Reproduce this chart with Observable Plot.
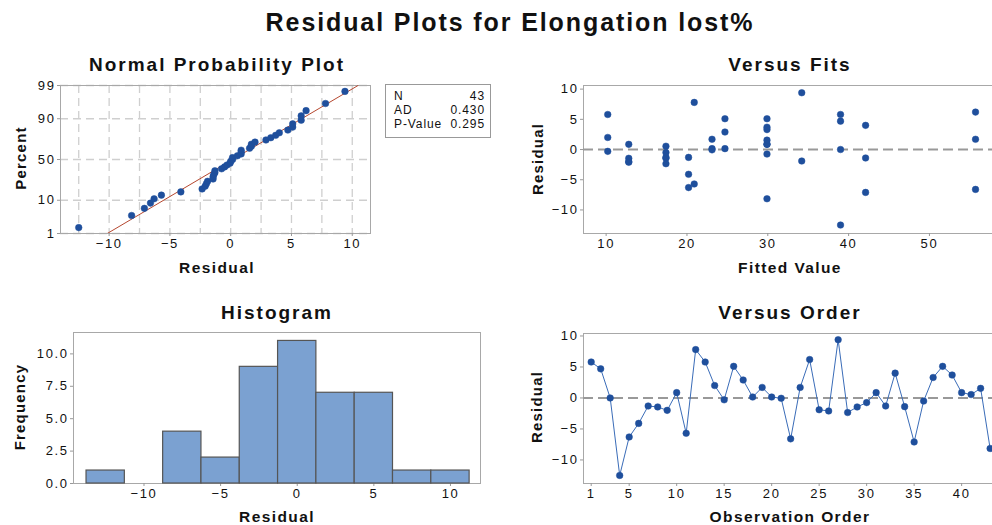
<!DOCTYPE html>
<html><head><meta charset="utf-8">
<script src="https://cdn.jsdelivr.net/npm/d3@7"></script>
<script src="https://cdn.jsdelivr.net/npm/@observablehq/plot@0.6"></script>
<style>
body{margin:0;background:#fff;font-family:"Liberation Sans",Arial,sans-serif;}
#wrap{position:relative;width:992px;height:525px;overflow:hidden;background:#fff}
.t{position:absolute;font-weight:bold;white-space:nowrap;color:#111;line-height:1;transform:translateX(-50%)}
.r{position:absolute;font-weight:bold;white-space:nowrap;color:#111;line-height:1;font-size:15px;letter-spacing:1.2px;transform:translate(-50%,-50%) rotate(-90deg)}
.main{font-size:25px;letter-spacing:1.9px}
.pt{font-size:19px;letter-spacing:2px}
.xl{font-size:15.5px;letter-spacing:1.4px}
#legend{position:absolute;left:385px;top:84px;width:106px;height:54px;border:1px solid #999;box-sizing:border-box;font-size:12px;letter-spacing:0.9px;color:#111}
#legend div{position:absolute;left:8px;right:5px;height:12px;line-height:12px}
#legend span.v{position:absolute;right:0}
svg text{letter-spacing:1.6px}
</style></head><body><div id="wrap"></div>
<script>
// ---------- data ----------
const residuals = [5.8, 4.7, 0, -12.5, -6.3, -4.1, -1.3, -1.45, -2.0, 0.86,
  -5.7, 7.8, 5.8, 2.0, -0.3, 5.1, 2.9, 0.15, 1.7, 0.15,
  -0.05, -6.6, 1.7, 6.2, -1.9, -2.1, 9.4, -2.35, -1.45, -0.75,
  0.86, -1.3, 4.0, -1.4, -7.1, -0.5, 3.3, 5.1, 3.7, 0.86,
  0.55, 1.55, -8.15];
const fitted = [10.2, 39.0, 39.0, 39.0, 20.2, 20.2, 20.2, 12.8, 12.8, 29.9,
  20.9, 20.9, 39.0, 10.2, 10.2, 24.7, 24.7, 24.7, 23.1, 23.1,
  23.1, 55.7, 55.7, 55.7, 34.2, 12.8, 34.2, 17.4, 17.4, 29.9,
  12.8, 17.4, 42.1, 42.1, 42.1, 17.4, 29.9, 29.9, 29.9, 29.9,
  17.4, 29.9, 29.9];
const histBinCenters = [-12.5, -10, -7.5, -5, -2.5, 0, 2.5, 5, 7.5, 10];
const histCounts = [1, 0, 4, 2, 9, 11, 7, 7, 1, 1];
const histBinWidth = 2.5;
const percentTicks = [1, 10, 50, 90, 99];
const residualGrid = [-12.5, -10, -7.5, -5, -2.5, 0, 2.5, 5, 7.5, 10];
const residualTicks = [-10, -5, 0, 5, 10];
const fitTicks = [10, 20, 30, 40, 50];
const orderTicks = [1, 5, 10, 15, 20, 25, 30, 35, 40];
const freqTicks = [0, 2.5, 5, 7.5, 10];
const statLabels = ["N", "AD", "P-Value"];
const statValues = ["43", "0.430", "0.295"];

// ---------- helpers ----------
function probit(p){
  const a=[-3.969683028665376e+01,2.209460984245205e+02,-2.759285104469687e+02,1.383577518672690e+02,-3.066479806614716e+01,2.506628277459239e+00];
  const b=[-5.447609879822406e+01,1.615858368580409e+02,-1.556989798598866e+02,6.680131188771972e+01,-1.328068155288572e+01];
  const c=[-7.784894002430293e-03,-3.223964580411365e-01,-2.400758277161838e+00,-2.549732539343734e+00,4.374664141464968e+00,2.938163982698783e+00];
  const d=[7.784695709041462e-03,3.224671290700398e-01,2.445134137142996e+00,3.754408661907416e+00];
  const pl=0.02425, ph=1-pl; let q,r;
  if(p<pl){q=Math.sqrt(-2*Math.log(p));return (((((c[0]*q+c[1])*q+c[2])*q+c[3])*q+c[4])*q+c[5])/((((d[0]*q+d[1])*q+d[2])*q+d[3])*q+1);}
  if(p<=ph){q=p-0.5;r=q*q;return (((((a[0]*r+a[1])*r+a[2])*r+a[3])*r+a[4])*r+a[5])*q/(((((b[0]*r+b[1])*r+b[2])*r+b[3])*r+b[4])*r+1);}
  q=Math.sqrt(-2*Math.log(1-p));return -(((((c[0]*q+c[1])*q+c[2])*q+c[3])*q+c[4])*q+c[5])/((((d[0]*q+d[1])*q+d[2])*q+d[3])*q+1);
}
const wrap = document.getElementById("wrap");
function mount(el, left, top){ el.style.position="absolute"; el.style.left=left+"px"; el.style.top=top+"px"; wrap.appendChild(el); }
function text(cls, str, cx, baseline, fs){
  const d=document.createElement("div"); d.className="t "+cls; d.textContent=str;
  d.style.left=cx+"px"; d.style.top=(baseline-0.8465*fs)+"px"; wrap.appendChild(d);
}
function rtext(str, baselineX, cy){
  const d=document.createElement("div"); d.className="r"; d.textContent=str;
  d.style.left=(baselineX-0.3465*15)+"px"; d.style.top=cy+"px"; wrap.appendChild(d);
}
const BLUE="#1f4f9c", FRAME="#a8a8a8", GRID="#cfcfcf";
const style={fontSize:"13px", fontFamily:"Liberation Sans, Arial, sans-serif", color:"#111", background:"transparent", overflow:"visible"};
const axisOpts={tickSize:3, tickPadding:2, stroke:"#999", label:null};

// ---------- 1. Normal probability plot ----------
const n = residuals.length;
const sorted = residuals.slice().sort(d3.ascending);
const probData = sorted.map((r,i)=>({r, z: probit((i+1-0.3)/(n+0.4))}));
const zTicks = percentTicks.map(p=>probit(p/100));
const zLo = zTicks[0], zHi = zTicks[zTicks.length-1];
const mean = d3.mean(residuals), sd = d3.deviation(residuals);
const lineData = [zLo, zHi].map(z=>({r: mean+sd*z, z}));
const p1 = Plot.plot({
  width:380, height:200, marginLeft:60, marginRight:10, marginTop:10, marginBottom:42,
  style,
  x:{domain:[-14,11.5], axis:null},
  y:{domain:[zLo,zHi], axis:null},
  marks:[
    Plot.gridX(residualGrid,{stroke:GRID, strokeOpacity:1, strokeDasharray:"8,5", strokeWidth:1.3}),
    Plot.gridY(zTicks,{stroke:GRID, strokeOpacity:1, strokeDasharray:"8,5", strokeWidth:1.3}),
    Plot.frame({stroke:FRAME}),
    Plot.axisX(residualTicks,{...axisOpts}),
    Plot.axisY(zTicks,{...axisOpts, tickFormat: z => percentTicks[zTicks.findIndex(t=>Math.abs(t-z)<1e-9)]}),
    Plot.line(lineData,{x:"r", y:"z", stroke:"#b5472f", strokeWidth:1, clip:true}),
    Plot.dot(probData,{x:"r", y:"z", r:3.3, fill:BLUE, stroke:BLUE, strokeWidth:0.5})
  ]
});
mount(p1, 0, 75);

// legend box
const lg=document.createElement("div"); lg.id="legend";
statLabels.forEach((lab,i)=>{
  const row=document.createElement("div"); row.style.top=(4.5+i*14)+"px";
  row.innerHTML=`<span>${lab}</span><span class="v">${statValues[i]}</span>`;
  lg.appendChild(row);
});
wrap.appendChild(lg);

// ---------- 2. Versus fits ----------
const obs = residuals.map((r,i)=>({order:i+1, fit:fitted[i], r}));
const fxDom=[7.2,57.8], fyDom=[-13.9,10.6];
const p2 = Plot.plot({
  width:472, height:200, marginLeft:63, marginRight:0, marginTop:10, marginBottom:42,
  style,
  x:{domain:fxDom, axis:null},
  y:{domain:fyDom, axis:null},
  marks:[
    Plot.ruleY(fyDom,{stroke:FRAME}),
    Plot.ruleX([fxDom[0]],{stroke:FRAME}),
    Plot.axisX(fitTicks,{...axisOpts}),
    Plot.axisY(residualTicks,{...axisOpts}),
    Plot.ruleY([0],{stroke:"#999", strokeWidth:2, strokeDasharray:"10,5"}),
    Plot.dot(obs,{x:"fit", y:"r", r:3.3, fill:BLUE, stroke:BLUE, strokeWidth:0.5})
  ]
});
mount(p2, 520, 75);

// ---------- 3. Histogram ----------
const hist = histBinCenters.map((c,i)=>({x1:c-histBinWidth/2, x2:c+histBinWidth/2, count:histCounts[i]})).filter(d=>d.count>0);
const p3 = Plot.plot({
  width:490, height:205, marginLeft:73, marginRight:10, marginTop:12, marginBottom:42,
  style,
  x:{domain:[-14.6,11.96], axis:null},
  y:{domain:[0,11.65], axis:null},
  marks:[
    Plot.frame({stroke:FRAME}),
    Plot.axisX(residualTicks,{...axisOpts}),
    Plot.axisY(freqTicks,{...axisOpts, tickFormat:d3.format(".1f")}),
    Plot.rectY(hist,{x1:"x1", x2:"x2", y:"count", fill:"#7ba1d1", stroke:"#555", strokeWidth:1.2})
  ]
});
mount(p3, 0, 320);

// ---------- 4. Versus order ----------
const oxDom=[0.19,43.25], oyDom=[-13.8,10.4];
const p4 = Plot.plot({
  width:472, height:205, marginLeft:63, marginRight:0, marginTop:13, marginBottom:42,
  style,
  x:{domain:oxDom, axis:null},
  y:{domain:oyDom, axis:null},
  marks:[
    Plot.ruleY(oyDom,{stroke:FRAME}),
    Plot.ruleX([oxDom[0]],{stroke:FRAME}),
    Plot.axisX(orderTicks,{...axisOpts}),
    Plot.axisY(residualTicks,{...axisOpts}),
    Plot.ruleY([0],{stroke:"#999", strokeWidth:2, strokeDasharray:"10,5"}),
    Plot.line(obs,{x:"order", y:"r", stroke:"#3a6cb8", strokeWidth:1}),
    Plot.dot(obs,{x:"order", y:"r", r:3.3, fill:BLUE, stroke:BLUE, strokeWidth:0.5})
  ]
});
mount(p4, 520, 320);

// ---------- texts ----------
text("main","Residual Plots for Elongation lost%",510,31.5,25);
text("pt","Normal Probability Plot",217,71.5,19);
text("pt","Versus Fits",790,71.5,19);
text("pt","Histogram",277,319,19);
text("pt","Versus Order",790,319,19);
text("xl","Residual",217,273,15.5);
text("xl","Fitted Value",790,273,15.5);
text("xl","Residual",277,522,15.5);
text("xl","Observation Order",790,522,15.5);
rtext("Percent",25,158);
rtext("Residual",542,159);
rtext("Frequency",24,407);
rtext("Residual",541,407);
</script></body></html>
